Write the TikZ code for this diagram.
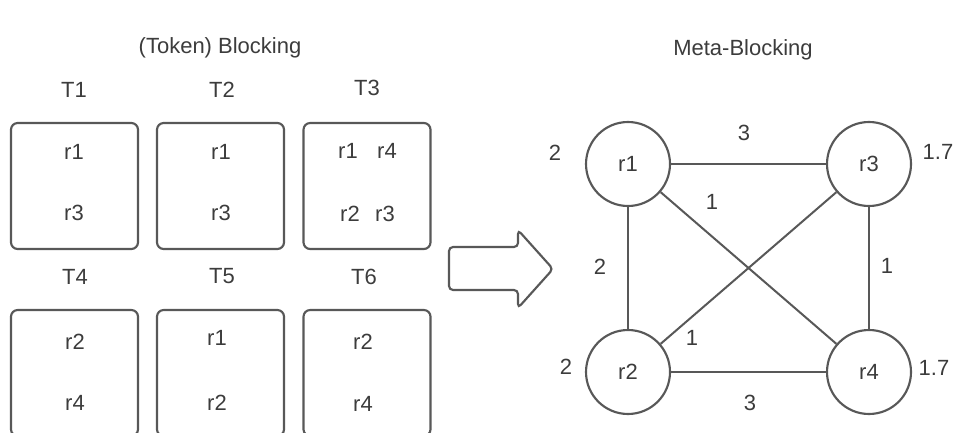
\documentclass[tikz,border=0pt]{standalone}
\usepackage{fontspec}
\setmainfont{Liberation Sans}
\definecolor{lnc}{RGB}{88,88,88}
\definecolor{txc}{RGB}{60,60,60}
\begin{document}
\begin{tikzpicture}[x=0.75pt,y=-0.75pt,
  lbl/.style={text=txc,font=\fontsize{16.5}{19}\selectfont,inner sep=0pt},
  blk/.style={draw=lnc,line width=1.6pt,rounded corners=5pt,minimum width=95.25pt,minimum height=94.5pt,inner sep=0pt},
  rec/.style={circle,draw=lnc,line width=1.6pt,minimum size=63pt,inner sep=0pt,text=txc,font=\fontsize{16.5}{19}\selectfont},
  edge/.style={draw=lnc,line width=1.5pt}]
\useasboundingbox (0,0) rectangle (956,432);
\clip (0,0) rectangle (956,432);
% titles
\node[lbl] (t1) at (220,48) {(Token) Blocking};
\node[lbl] (t2) at (743,50) {Meta-Blocking};
% block labels
\node[lbl] (T1) at (74,90) {T1};
\node[lbl] (T2) at (222,90) {T2};
\node[lbl] (T3) at (367,88) {T3};
\node[lbl] (T4) at (75,277) {T4};
\node[lbl] (T5) at (222,276) {T5};
\node[lbl] (T6) at (364,277) {T6};
% boxes
\node[blk] (b1) at (74.5,186) {};
\node[blk] (b2) at (220.5,186) {};
\node[blk] (b3) at (367,186) {};
\node[blk] (b4) at (74.5,373) {};
\node[blk] (b5) at (220.5,373) {};
\node[blk] (b6) at (367,373) {};
% box contents
\node[lbl] (b1a) at (74,152) {r1};
\node[lbl] (b1b) at (74,213) {r3};
\node[lbl] (b2a) at (221,152) {r1};
\node[lbl] (b2b) at (221,213) {r3};
\node[lbl] (b3a) at (348,151) {r1};
\node[lbl] (b3b) at (387,151) {r4};
\node[lbl] (b3c) at (350,214) {r2};
\node[lbl] (b3d) at (385,214) {r3};
\node[lbl] (b4a) at (75,342) {r2};
\node[lbl] (b4b) at (75,403) {r4};
\node[lbl] (b5a) at (217,338) {r1};
\node[lbl] (b5b) at (217,403) {r2};
\node[lbl] (b6a) at (363,342) {r2};
\node[lbl] (b6b) at (363,404) {r4};
% arrow
\draw[lnc,line width=1.6pt,rounded corners=3pt] (449,247) -- (518,247) -- (518,230) -- (553,269) -- (518,308) -- (518,290) -- (449,290) -- cycle;
% graph
\node[rec] (r1) at (628,164) {r1};
\node[rec] (r3) at (869,164) {r3};
\node[rec] (r2) at (628,372) {r2};
\node[rec] (r4) at (869,372) {r4};
\draw[edge] (r1) -- (r3);
\draw[edge] (r2) -- (r4);
\draw[edge] (r1) -- (r2);
\draw[edge] (r3) -- (r4);
\draw[edge] (r1) -- (r4);
\draw[edge] (r3) -- (r2);
% edge labels
\node[lbl] (e13) at (744,133) {3};
\node[lbl] (e14) at (712,202) {1};
\node[lbl] (e12) at (600,267) {2};
\node[lbl] (e34) at (887,266) {1};
\node[lbl] (e32) at (692,338) {1};
\node[lbl] (e24) at (750,403) {3};
% node weights
\node[lbl] (w1) at (555,153) {2};
\node[lbl] (w3) at (938,152) {1.7};
\node[lbl] (w2) at (566,367) {2};
\node[lbl] (w4) at (934,368) {1.7};
\end{tikzpicture}
\end{document}
